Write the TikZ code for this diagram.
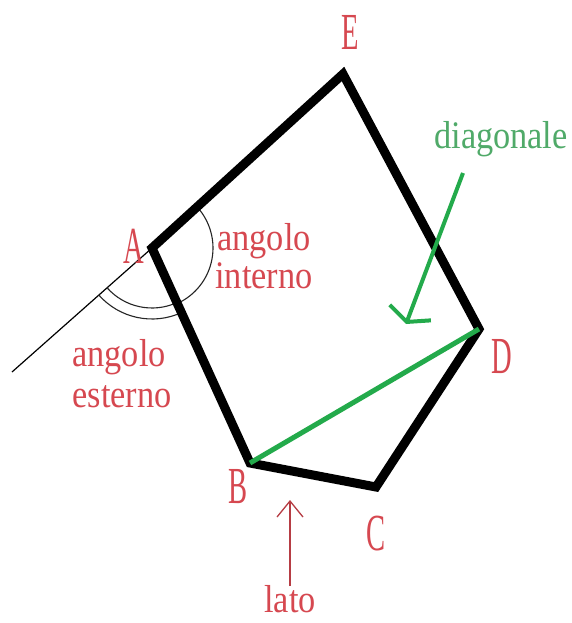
\documentclass[tikz,border=0pt]{standalone}
\usepackage{fontspec}
\setmainfont{Liberation Serif}
\usetikzlibrary{arrows.meta}
\definecolor{lblred}{RGB}{214,72,80}
\definecolor{dgreen}{RGB}{35,170,75}
\definecolor{tgreen}{RGB}{80,170,105}
\newcommand\capl[1]{\fontsize{52}{52}\selectfont\scalebox{0.55}[1]{#1}}
\newcommand\wordl[1]{\fontsize{39}{39}\selectfont\scalebox{0.88}[1]{#1}}
\begin{document}
\begin{tikzpicture}[x=1pt,y=-1pt,
  side/.style={line width=9pt, line join=miter},
  thinline/.style={line width=1.2pt, black},
  arcline/.style={line width=1.1pt, black!85},
  vlabel/.style={text=lblred, anchor=base, inner sep=0pt},
  wlabel/.style={text=lblred, anchor=base, inner sep=0pt},
  glabel/.style={text=tgreen, anchor=base, inner sep=0pt},
  diag/.style={dgreen, line width=5pt},
  garrow/.style={dgreen, line width=4pt, -{Straight Barb[length=10pt,width=44pt]}},
  rarrow/.style={lblred!85!black, line width=1.3pt, -{Straight Barb[length=16pt,width=26pt]}}]
\useasboundingbox (0,0) rectangle (571,623);
\fill[white] (0,0) rectangle (571,623);
% vertices
\coordinate (A) at (152,248);
\coordinate (E) at (343,74);
\coordinate (D) at (479,329);
\coordinate (C) at (376,487);
\coordinate (B) at (250,463);
\coordinate (X) at (12,372);
% extension line
\draw[thinline] (A) -- (X);
% angle arcs
\draw[arcline] (A) ++(-42:61) arc[start angle=-42, end angle=65.5, radius=61];
\draw[arcline] (A) ++(138.5:60) arc[start angle=138.5, end angle=65.5, radius=60];
\draw[arcline] (A) ++(138.5:71) arc[start angle=138.5, end angle=65.5, radius=71];
% polygon
\draw[side] (A) -- (E) -- (D) -- (C) -- (B) -- cycle;
% diagonal
\draw[diag] (B) -- (D);
% diagonal pointer
\coordinate (g1) at (463,173);
\coordinate (g2) at (406,324);
\draw[garrow] (g1) -- (g2);
% lato pointer
\coordinate (l1) at (290,586);
\coordinate (l2) at (290,500);
\draw[rarrow] (l1) -- (l2);
% vertex labels
\node[vlabel] (lE) at (350,50) {\capl{E}};
\node[vlabel] (lA) at (134,263) {\capl{A}};
\node[vlabel] (lB) at (238,503) {\capl{B}};
\node[vlabel] (lC) at (376,550) {\capl{C}};
\node[vlabel] (lD) at (502,373) {\capl{D}};
% word labels
\node[wlabel] (ai1) at (264,250) {\wordl{angolo}};
\node[wlabel] (ai2) at (264,288) {\wordl{interno}};
\node[wlabel] (ae1) at (119,366) {\wordl{angolo}};
\node[wlabel] (ae2) at (122,407) {\wordl{esterno}};
\node[glabel] (dg) at (501,148) {\wordl{diagonale}};
\node[wlabel] (lt) at (290,612) {\wordl{lato}};
\end{tikzpicture}
\end{document}
